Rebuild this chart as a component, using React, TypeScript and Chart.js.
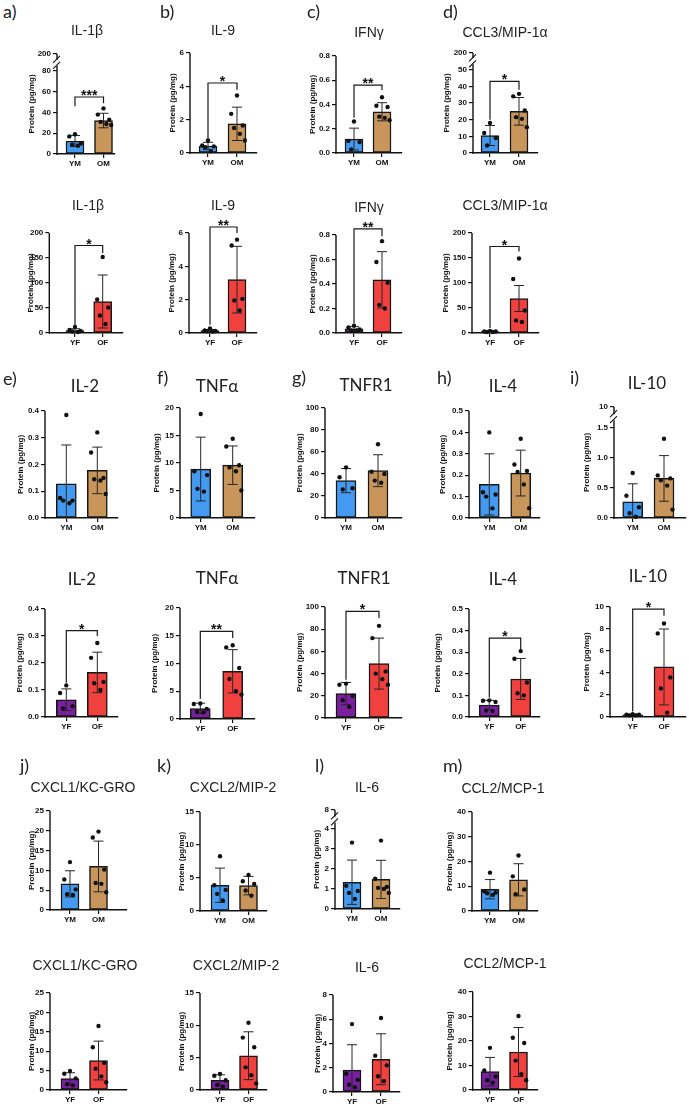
import React, { useEffect, useRef } from "react";
import { Chart, registerables } from "chart.js";
Chart.register(...registerables);

// ---------- groups / colours ----------
const MALE = ["YM", "OM"];
const FEMALE = ["YF", "OF"];
const MALE_COLORS = ["#449af0", "#c8965a"];
const FEMALE_COLORS = ["#7a1fa0", "#f0413f"];
const Y_TITLE = "Protein (pg/mg)";

// ---------- row 1 : male a-d ----------
const IL1B_M_PTS = [[19, 17, 10, 9, 8], [44, 38, 33, 31, 29, 28]];
const IL1B_M_MEAN = [12.5, 32.3];
const IL1B_M_SD = [5.3, 7.0];
const IL1B_M_TICKS = [0, 20, 40, 60, 80, 96.5];
const IL1B_M_LBL = ["0", "20", "40", "60", "80", "200"];

const IL9_M_PTS = [[0.75, 0.45, 0.4, 0.35, 0.1], [3.45, 2.35, 1.65, 1.5, 1.15, 0.75]];
const IL9_M_MEAN = [0.42, 1.75];
const IL9_M_SD = [0.22, 1.0];
const IL9_TICKS = [0, 2, 4, 6];
const IL9_LBL = ["0", "2", "4", "6"];

const IFNG_M_PTS = [[0.26, 0.1, 0.09, 0.03], [0.46, 0.39, 0.38, 0.3, 0.29, 0.27]];
const IFNG_M_MEAN = [0.115, 0.34];
const IFNG_M_SD = [0.09, 0.075];
const IFNG_TICKS = [0, 0.2, 0.4, 0.6, 0.8];
const IFNG_LBL = ["0.0", "0.2", "0.4", "0.6", "0.8"];

const CCL3_M_PTS = [[18, 12, 9, 4.5], [35.5, 34, 25.5, 21.5, 20.5, 15.5]];
const CCL3_M_MEAN = [10.5, 25];
const CCL3_M_SD = [6, 8.3];
const CCL3_M_TICKS = [0, 10, 20, 30, 40, 50, 60];
const CCL3_M_LBL = ["0", "10", "20", "30", "40", "50", "200"];

// ---------- row 2 : female a-d ----------
const IL1B_F_PTS = [[12, 6, 4, 3, 2], [152, 67, 51, 35, 18]];
const IL1B_F_MEAN = [5, 63];
const IL1B_F_SD = [3.5, 53];
const BIG_TICKS = [0, 50, 100, 150, 200];
const BIG_LBL = ["0", "50", "100", "150", "200"];

const IL9_F_PTS = [[0.27, 0.15, 0.12, 0.1, 0.08], [5.6, 5.25, 2.05, 1.95, 1.35]];
const IL9_F_MEAN = [0.14, 3.2];
const IL9_F_SD = [0.07, 2.0];

const IFNG_F_PTS = [[0.06, 0.045, 0.03, 0.02, 0.02], [0.75, 0.58, 0.41, 0.23, 0.2]];
const IFNG_F_MEAN = [0.035, 0.434];
const IFNG_F_SD = [0.017, 0.23];

const CCL3_F_PTS = [[4, 3, 3, 2, 2], [149, 108, 45, 25, 22]];
const CCL3_F_MEAN = [2.8, 69];
const CCL3_F_SD = [0.8, 26];

// ---------- row 3 : male e-i ----------
const IL2_M_PTS = [[0.385, 0.075, 0.065, 0.065, 0.055], [0.32, 0.245, 0.15, 0.145, 0.14, 0.09]];
const IL2_M_MEAN = [0.128, 0.178];
const IL2_M_SD = [0.145, 0.087];
const IL2_TICKS = [0, 0.1, 0.2, 0.3, 0.4];
const IL2_LBL = ["0.0", "0.1", "0.2", "0.3", "0.4"];

const TNFA_M_PTS = [[18.9, 8.5, 7.8, 5.3, 4.8], [14.4, 13, 9.6, 9.2, 8.5, 5]];
const TNFA_M_MEAN = [8.9, 9.6];
const TNFA_M_SD = [5.8, 3.5];
const TNFA_TICKS = [0, 5, 10, 15, 20];
const TNFA_LBL = ["0", "5", "10", "15", "20"];

const TNFR1_M_PTS = [[46, 37, 27, 26], [67, 42, 40, 34, 32]];
const TNFR1_M_MEAN = [34, 43];
const TNFR1_M_SD = [11, 14.5];
const TNFR1_TICKS = [0, 20, 40, 60, 80, 100];
const TNFR1_LBL = ["0", "20", "40", "60", "80", "100"];

const IL4_M_PTS = [[0.4, 0.12, 0.11, 0.1, 0.045], [0.37, 0.25, 0.22, 0.215, 0.157, 0.046]];
const IL4_M_MEAN = [0.157, 0.21];
const IL4_M_SD = [0.143, 0.107];
const IL4_TICKS = [0, 0.1, 0.2, 0.3, 0.4, 0.5];
const IL4_LBL = ["0.0", "0.1", "0.2", "0.3", "0.4", "0.5"];

const IL10_M_PTS = [[0.75, 0.37, 0.18, 0.08, 0.02], [1.32, 0.71, 0.66, 0.63, 0.54, 0.14]];
const IL10_M_MEAN = [0.27, 0.66];
const IL10_M_SD = [0.3, 0.38];
const IL10_M_TICKS = [0, 0.5, 1.0, 1.5, 1.85];
const IL10_M_LBL = ["0.0", "0.5", "1.0", "1.5", "10"];

// ---------- row 4 : female e-i ----------
const IL2_F_PTS = [[0.117, 0.089, 0.04, 0.032], [0.274, 0.219, 0.13, 0.125, 0.1]];
const IL2_F_MEAN = [0.064, 0.165];
const IL2_F_SD = [0.04, 0.075];

const TNFA_F_PTS = [[2.8, 2.7, 1.8, 1.3, 1.2], [13.3, 12.9, 9.2, 7.2, 5, 4.4]];
const TNFA_F_MEAN = [1.9, 8.6];
const TNFA_F_SD = [0.95, 3.9];

const TNFR1_F_PTS = [[31, 30, 20, 16, 10], [83, 72, 42, 40, 35, 30]];
const TNFR1_F_MEAN = [22, 49];
const TNFR1_F_SD = [10, 23];

const IL4_F_PTS = [[0.077, 0.075, 0.07, 0.03, 0.028], [0.305, 0.27, 0.16, 0.11, 0.1]];
const IL4_F_MEAN = [0.055, 0.176];
const IL4_F_SD = [0.022, 0.095];

const IL10_F_PTS = [[0.25, 0.2, 0.2, 0.15, 0.15], [8.5, 7.6, 3.6, 2.6, 0.4]];
const IL10_F_MEAN = [0.2, 4.55];
const IL10_F_SD = [0.05, 3.45];
const IL10_F_TICKS = [0, 2, 4, 6, 8, 10];
const IL10_F_LBL = ["0", "2", "4", "6", "8", "10"];

// ---------- row 5 : male j-m ----------
const CXCL1_M_PTS = [[12.1, 7.7, 5.2, 4.0, 3.8], [19.8, 18.3, 10.2, 6.8, 6.6, 4.5]];
const CXCL1_M_MEAN = [6.6, 11];
const CXCL1_M_SD = [3.3, 6.4];
const CXCL1_TICKS = [0, 5, 10, 15, 20, 25];
const CXCL1_LBL = ["0", "5", "10", "15", "20", "25"];

const CXCL2_M_PTS = [[8.3, 3.9, 3.2, 2.6, 1.6], [5.45, 4.5, 4.1, 3.1, 2.3]];
const CXCL2_M_MEAN = [3.9, 3.85];
const CXCL2_M_SD = [2.6, 1.4];
const CXCL2_TICKS = [0, 5, 10, 15];
const CXCL2_LBL = ["0", "5", "10", "15"];

const IL6_M_PTS = [[3.3, 1.15, 0.9, 0.8, 0.5], [3.4, 1.5, 1.1, 1.05, 1.0, 0.8]];
const IL6_M_MEAN = [1.33, 1.47];
const IL6_M_SD = [1.1, 0.95];
const IL6_M_TICKS = [0, 1, 2, 3, 4, 4.92];
const IL6_M_LBL = ["0", "1", "2", "3", "4", "8"];

const CCL2_M_PTS = [[15.5, 8, 7.5, 7.2, 6.5], [22.4, 14, 8.7, 6.8]];
const CCL2_M_MEAN = [8.8, 12.6];
const CCL2_M_SD = [3.9, 6.5];
const CCL2_TICKS = [0, 10, 20, 30, 40];
const CCL2_LBL = ["0", "10", "20", "30", "40"];

// ---------- row 6 : female j-m ----------
const CXCL1_F_PTS = [[4.9, 4.2, 3.0, 1.5, 1.2], [16.5, 11, 7, 5.5, 3.5, 2]];
const CXCL1_F_MEAN = [2.95, 7.6];
const CXCL1_F_SD = [1.5, 5];

const CXCL2_F_PTS = [[2.5, 2.2, 1.5, 0.8, 0.5], [10.4, 8.1, 6.6, 3.5, 2.3, 1.0]];
const CXCL2_F_MEAN = [1.5, 5.3];
const CXCL2_F_SD = [0.85, 3.7];

const IL6_F_PTS = [[5.6, 1.5, 1.0, 0.6, 0.4], [6.1, 3.0, 2.2, 1.3, 0.9]];
const IL6_F_MEAN = [1.8, 2.7];
const IL6_F_SD = [2.1, 2.1];
const IL6_F_TICKS = [0, 2, 4, 6, 8];
const IL6_F_LBL = ["0", "2", "4", "6", "8"];

const CCL2_F_PTS = [[17.2, 8, 5.5, 4, 3], [30.2, 21.3, 19.2, 12, 6.5, 4]];
const CCL2_F_MEAN = [7.5, 15.5];
const CCL2_F_SD = [5.8, 10];

// jitter pattern (horizontal spread of dots inside a bar, in category units)
const JIT = [0, -0.2, 0.2, -0.1, 0.1, 0.27];

// ---------- layout ----------
const M = (o: any) => ({ groups: MALE, colors: MALE_COLORS, ...o });
const F = (o: any) => ({ groups: FEMALE, colors: FEMALE_COLORS, ...o });

const PANELS: any[] = [
  // row 1
  M({ axisX: 57, xEnd: 115, c0: 75, c1: 103.5, top: 54, y0: 153.5, yMax: 96.5, ticks: IL1B_M_TICKS, lbl: IL1B_M_LBL, brk: 88, ytx: 32, bw: 18, pts: IL1B_M_PTS, mean: IL1B_M_MEAN, sd: IL1B_M_SD, br: [55, 46, 49], stars: "***" }),
  M({ axisX: 190, xEnd: 257, c0: 208, c1: 237, top: 53.3, y0: 153.3, yMax: 6, ticks: IL9_TICKS, lbl: IL9_LBL, ytx: 173, bw: 18, pts: IL9_M_PTS, mean: IL9_M_MEAN, sd: IL9_M_SD, br: [4.2, 0.85, 3.8], stars: "*" }),
  M({ axisX: 336, xEnd: 402, c0: 354, c1: 382, top: 56, y0: 153.3, yMax: 0.8, ticks: IFNG_TICKS, lbl: IFNG_LBL, ytx: 313, bw: 18, pts: IFNG_M_PTS, mean: IFNG_M_MEAN, sd: IFNG_M_SD, br: [0.56, 0.29, 0.52], stars: "**" }),
  M({ axisX: 473, xEnd: 538, c0: 490, c1: 519, top: 53.3, y0: 153.3, yMax: 60, ticks: CCL3_M_TICKS, lbl: CCL3_M_LBL, brk: 55, ytx: 447, bw: 18, pts: CCL3_M_PTS, mean: CCL3_M_MEAN, sd: CCL3_M_SD, br: [43, 20, 38], stars: "*" }),
  // row 2
  F({ axisX: 49.3, xEnd: 123, c0: 75, c1: 102.7, top: 233.3, y0: 333.3, yMax: 200, ticks: BIG_TICKS, lbl: BIG_LBL, ytx: 30.7, bw: 18, pts: IL1B_F_PTS, mean: IL1B_F_MEAN, sd: IL1B_F_SD, br: [175, 13, 160], stars: "*" }),
  F({ axisX: 189, xEnd: 257, c0: 210, c1: 237, top: 233.3, y0: 333.3, yMax: 6, ticks: IL9_TICKS, lbl: IL9_LBL, ytx: 172.3, bw: 18, pts: IL9_F_PTS, mean: IL9_F_MEAN, sd: IL9_F_SD, br: [6.36, 0.5, 6.0], stars: "**" }),
  F({ axisX: 336, xEnd: 402, c0: 354, c1: 382, top: 235, y0: 333.3, yMax: 0.8, ticks: IFNG_TICKS, lbl: IFNG_LBL, ytx: 313, bw: 18, pts: IFNG_F_PTS, mean: IFNG_F_MEAN, sd: IFNG_F_SD, br: [0.85, 0.08, 0.79], stars: "**" }),
  F({ axisX: 472, xEnd: 539, c0: 490, c1: 519, top: 233.3, y0: 333.3, yMax: 200, ticks: BIG_TICKS, lbl: BIG_LBL, ytx: 446, bw: 18, pts: CCL3_F_PTS, mean: CCL3_F_MEAN, sd: CCL3_F_SD, br: [173, 10, 163], stars: "*" }),
  // row 3
  M({ axisX: 45, xEnd: 118, c0: 66.3, c1: 97.3, top: 410.7, y0: 518.3, yMax: 0.4, ticks: IL2_TICKS, lbl: IL2_LBL, ytx: 20.7, bw: 20, pts: IL2_M_PTS, mean: IL2_M_MEAN, sd: IL2_M_SD }),
  M({ axisX: 180, xEnd: 255, c0: 200.7, c1: 232.7, top: 407.7, y0: 518.3, yMax: 20, ticks: TNFA_TICKS, lbl: TNFA_LBL, ytx: 156.7, bw: 20, pts: TNFA_M_PTS, mean: TNFA_M_MEAN, sd: TNFA_M_SD }),
  M({ axisX: 325, xEnd: 402, c0: 346, c1: 378, top: 407.7, y0: 518.3, yMax: 100, ticks: TNFR1_TICKS, lbl: TNFR1_LBL, ytx: 300, bw: 20, pts: TNFR1_M_PTS, mean: TNFR1_M_MEAN, sd: TNFR1_M_SD }),
  M({ axisX: 469, xEnd: 540, c0: 489.3, c1: 520.7, top: 410.7, y0: 518.3, yMax: 0.5, ticks: IL4_TICKS, lbl: IL4_LBL, ytx: 443.3, bw: 20, pts: IL4_M_PTS, mean: IL4_M_MEAN, sd: IL4_M_SD }),
  M({ axisX: 614, xEnd: 686, c0: 632.7, c1: 664, top: 407.3, y0: 518.3, yMax: 1.85, ticks: IL10_M_TICKS, lbl: IL10_M_LBL, brk: 1.68, ytx: 586.7, bw: 20, pts: IL10_M_PTS, mean: IL10_M_MEAN, sd: IL10_M_SD }),
  // row 4
  F({ axisX: 45, xEnd: 118, c0: 66.3, c1: 97.3, top: 609.3, y0: 717.3, yMax: 0.4, ticks: IL2_TICKS, lbl: IL2_LBL, ytx: 20, bw: 20, pts: IL2_F_PTS, mean: IL2_F_MEAN, sd: IL2_F_SD, br: [0.32, 0.127, 0.3], stars: "*" }),
  F({ axisX: 180, xEnd: 255, c0: 200.3, c1: 232.7, top: 608.3, y0: 718.5, yMax: 20, ticks: TNFA_TICKS, lbl: TNFA_LBL, ytx: 155, bw: 20, pts: TNFA_F_PTS, mean: TNFA_F_MEAN, sd: TNFA_F_SD, br: [15.8, 3.6, 14.6], stars: "**" }),
  F({ axisX: 325, xEnd: 402, c0: 346, c1: 379, top: 607.3, y0: 718.3, yMax: 100, ticks: TNFR1_TICKS, lbl: TNFR1_LBL, ytx: 300, bw: 20, pts: TNFR1_F_PTS, mean: TNFR1_F_MEAN, sd: TNFR1_F_SD, br: [96, 34.5, 90], stars: "*" }),
  F({ axisX: 469, xEnd: 540, c0: 489.3, c1: 520.7, top: 609.3, y0: 717.3, yMax: 0.5, ticks: IL4_TICKS, lbl: IL4_LBL, ytx: 438, bw: 20, pts: IL4_F_PTS, mean: IL4_F_MEAN, sd: IL4_F_SD, br: [0.365, 0.09, 0.31], stars: "*" }),
  F({ axisX: 610, xEnd: 686, c0: 632.7, c1: 664, top: 606.7, y0: 717.3, yMax: 10, ticks: IL10_F_TICKS, lbl: IL10_F_LBL, ytx: 586.7, bw: 20, pts: IL10_F_PTS, mean: IL10_F_MEAN, sd: IL10_F_SD, br: [9.8, 0.5, 9.2], stars: "*" }),
  // row 5
  M({ axisX: 50, xEnd: 127, c0: 70, c1: 98.5, top: 811, y0: 910, yMax: 25, ticks: CXCL1_TICKS, lbl: CXCL1_LBL, ytx: 31.7, bw: 18, pts: CXCL1_M_PTS, mean: CXCL1_M_MEAN, sd: CXCL1_M_SD }),
  M({ axisX: 200, xEnd: 267, c0: 220, c1: 248.5, top: 812, y0: 910.7, yMax: 15, ticks: CXCL2_TICKS, lbl: CXCL2_LBL, ytx: 181.7, bw: 18, pts: CXCL2_M_PTS, mean: CXCL2_M_MEAN, sd: CXCL2_M_SD }),
  M({ axisX: 335, xEnd: 400, c0: 352, c1: 381, top: 810, y0: 909.3, yMax: 4.92, ticks: IL6_M_TICKS, lbl: IL6_M_LBL, brk: 4.45, ytx: 316.7, bw: 18, pts: IL6_M_PTS, mean: IL6_M_MEAN, sd: IL6_M_SD }),
  M({ axisX: 472, xEnd: 538, c0: 490, c1: 518.5, top: 812, y0: 910.7, yMax: 40, ticks: CCL2_TICKS, lbl: CCL2_LBL, ytx: 450, bw: 18, pts: CCL2_M_PTS, mean: CCL2_M_MEAN, sd: CCL2_M_SD }),
  // row 6
  F({ axisX: 50, xEnd: 127, c0: 70, c1: 98.5, top: 993.3, y0: 1090, yMax: 25, ticks: CXCL1_TICKS, lbl: CXCL1_LBL, ytx: 31.7, bw: 18, pts: CXCL1_F_PTS, mean: CXCL1_F_MEAN, sd: CXCL1_F_SD }),
  F({ axisX: 200, xEnd: 267, c0: 220, c1: 248.5, top: 992.7, y0: 1090, yMax: 15, ticks: CXCL2_TICKS, lbl: CXCL2_LBL, ytx: 181.7, bw: 18, pts: CXCL2_F_PTS, mean: CXCL2_F_MEAN, sd: CXCL2_F_SD }),
  F({ axisX: 333, xEnd: 400, c0: 352, c1: 381, top: 995, y0: 1092, yMax: 8, ticks: IL6_F_TICKS, lbl: IL6_F_LBL, ytx: 318, bw: 18, pts: IL6_F_PTS, mean: IL6_F_MEAN, sd: IL6_F_SD }),
  F({ axisX: 472.7, xEnd: 538, c0: 490, c1: 518.5, top: 991.7, y0: 1090, yMax: 40, ticks: CCL2_TICKS, lbl: CCL2_LBL, ytx: 450, bw: 18, pts: CCL2_F_PTS, mean: CCL2_F_MEAN, sd: CCL2_F_SD }),
];

const ARIAL = "'Liberation Sans', Arial, sans-serif";
const CALIBRI = "Lato, 'Open Sans', sans-serif";

// titles: [text, centerX, centerY, family, size]
const TITLES: any[] = [
  ["IL-1β", 87, 30, ARIAL, 14], ["IL-9", 223, 30, ARIAL, 14], ["IFNγ", 369, 32, ARIAL, 14], ["CCL3/MIP-1α", 505, 32, ARIAL, 14],
  ["IL-1β", 88, 205, ARIAL, 14], ["IL-9", 223, 205, ARIAL, 14], ["IFNγ", 369, 207, ARIAL, 14], ["CCL3/MIP-1α", 505, 205, ARIAL, 14],
  ["IL-2", 85, 385, CALIBRI, 17], ["TNFα", 217, 385, CALIBRI, 17], ["TNFR1", 366, 384, CALIBRI, 17], ["IL-4", 503, 385, CALIBRI, 17], ["IL-10", 647, 382, CALIBRI, 17],
  ["IL-2", 82, 578, CALIBRI, 17], ["TNFα", 217, 577, CALIBRI, 17], ["TNFR1", 364, 577, CALIBRI, 17], ["IL-4", 503, 578, CALIBRI, 17], ["IL-10", 648, 575, CALIBRI, 17],
  ["CXCL1/KC-GRO", 83, 787, ARIAL, 14], ["CXCL2/MIP-2", 233, 787, ARIAL, 14], ["IL-6", 367, 787, ARIAL, 14], ["CCL2/MCP-1", 503, 788, ARIAL, 14],
  ["CXCL1/KC-GRO", 85, 965, ARIAL, 14], ["CXCL2/MIP-2", 236, 965, ARIAL, 14], ["IL-6", 367, 967, ARIAL, 14], ["CCL2/MCP-1", 505, 963, ARIAL, 14],
];

// panel letters: [text, left, centerY]
const LETTERS: any[] = [
  ["a)", 3, 11], ["b)", 160, 11], ["c)", 307, 11], ["d)", 443, 11],
  ["e)", 3, 378], ["f)", 157, 377], ["g)", 292, 377], ["h)", 437, 377], ["i)", 570, 377],
  ["j)", 20, 765], ["k)", 157, 765], ["l)", 315, 765], ["m)", 443, 765],
];

const TICK_FONT = { family: ARIAL, size: 8, weight: "bold" as const };

function PanelChart({ p }: { p: any }) {
  const ref = useRef<HTMLCanvasElement>(null);
  const padTop = 45;
  const padRight = 4;
  const xH = 20;
  const left = Math.round(p.ytx - 5);
  const top = Math.round(p.top - padTop);
  const width = Math.round(p.xEnd - left + padRight);
  const height = Math.round(p.y0 - top + xH);

  useEffect(() => {
    const unit = p.c1 - p.c0;
    const xmin = -(p.c0 - p.axisX) / unit;
    const xmax = 1 + (p.xEnd - p.c1) / unit;
    const scatter: any[] = [];
    p.pts.forEach((arr: number[], g: number) =>
      arr.forEach((v: number, i: number) => scatter.push({ x: g + JIT[i % JIT.length], y: v }))
    );
    const deco = {
      id: "deco",
      afterDatasetDraw(chart: any, args: any) {
        if (args.meta.type !== "bar") return;
        const ctx = chart.ctx;
        const xs = chart.scales.x;
        const ys = chart.scales.y;
        ctx.save();
        ctx.strokeStyle = "#262626";
        ctx.lineWidth = 1;
        p.mean.forEach((m: number, i: number) => {
          const x = xs.getPixelForValue(i);
          const hi = ys.getPixelForValue(m + p.sd[i]);
          const lowVal = m - p.sd[i];
          const lo = ys.getPixelForValue(Math.max(0, lowVal));
          ctx.beginPath();
          ctx.moveTo(x, lo);
          ctx.lineTo(x, hi);
          ctx.moveTo(x - 5, hi);
          ctx.lineTo(x + 5, hi);
          if (lowVal > 0) {
            ctx.moveTo(x - 5, lo);
            ctx.lineTo(x + 5, lo);
          }
          ctx.stroke();
        });
        ctx.restore();
      },
      afterDraw(chart: any) {
        const ctx = chart.ctx;
        const { left: L, top: T, bottom: B } = chart.chartArea;
        const ys = chart.scales.y;
        const xs = chart.scales.x;
        ctx.save();
        ctx.strokeStyle = "#111";
        ctx.lineWidth = 1.4;
        const ax = L;
        if (p.brk != null) {
          const by = ys.getPixelForValue(p.brk);
          const g = 3;
          ctx.beginPath();
          ctx.moveTo(ax, B + 0.7);
          ctx.lineTo(ax, by + g);
          ctx.moveTo(ax, by - g);
          ctx.lineTo(ax, T);
          ctx.stroke();
          ctx.lineWidth = 1.1;
          ctx.beginPath();
          ctx.moveTo(ax - 4, by + g + 3);
          ctx.lineTo(ax + 3, by + g - 4);
          ctx.moveTo(ax - 4, by - g + 3);
          ctx.lineTo(ax + 3, by - g - 4);
          ctx.stroke();
        } else {
          ctx.beginPath();
          ctx.moveTo(ax, B + 0.7);
          ctx.lineTo(ax, T);
          ctx.stroke();
        }
        if (p.br) {
          const x0 = xs.getPixelForValue(0);
          const x1 = xs.getPixelForValue(1);
          const yl = ys.getPixelForValue(p.br[0]);
          const yA = ys.getPixelForValue(p.br[1]);
          const yB = ys.getPixelForValue(p.br[2]);
          ctx.lineWidth = 1.2;
          ctx.strokeStyle = "#1a1a1a";
          ctx.beginPath();
          ctx.moveTo(x0, yA);
          ctx.lineTo(x0, yl);
          ctx.lineTo(x1, yl);
          ctx.lineTo(x1, yB);
          ctx.stroke();
          ctx.fillStyle = "#111";
          ctx.font = `bold 14px ${ARIAL}`;
          ctx.textAlign = "center";
          ctx.textBaseline = "alphabetic";
          ctx.fillText(p.stars, (x0 + x1) / 2, yl + 3);
        }
        ctx.restore();
      },
    };

    const chart = new Chart(ref.current as HTMLCanvasElement, {
      type: "bar",
      data: {
        datasets: [
          {
            type: "scatter",
            data: scatter,
            backgroundColor: "#111",
            borderColor: "#111",
            pointRadius: 2.2,
            borderWidth: 0,
            clip: false,
            order: 0,
          } as any,
          {
            type: "bar",
            data: p.mean.map((m: number, i: number) => ({ x: i, y: m })),
            backgroundColor: p.colors,
            borderColor: "#161616",
            borderWidth: 1.5,
            borderSkipped: false,
            barThickness: p.bw,
            clip: false,
            order: 1,
          } as any,
        ],
      },
      options: {
        responsive: false,
        animation: false,
        devicePixelRatio: 1,
        layout: { padding: { left: 0, top: padTop, right: padRight, bottom: 0 } },
        plugins: { legend: { display: false }, tooltip: { enabled: false }, title: { display: false } },
        scales: {
          x: {
            type: "linear",
            min: xmin,
            max: xmax,
            bounds: "data",
            offset: false,
            afterBuildTicks: (s: any) => {
              s.ticks = [{ value: 0 }, { value: 1 }];
            },
            ticks: {
              callback: (_v: any, i: number) => p.groups[i],
              font: TICK_FONT,
              color: "#111",
              padding: 1,
              autoSkip: false,
              maxRotation: 0,
            },
            grid: { display: true, offset: false, drawOnChartArea: false, drawTicks: true, tickLength: 4, color: "#111", lineWidth: 1.2 },
            border: { display: true, color: "#111", width: 1.5 },
            afterFit: (s: any) => {
              s.height = xH;
            },
          },
          y: {
            type: "linear",
            min: 0,
            max: p.yMax,
            bounds: "data",
            afterBuildTicks: (s: any) => {
              s.ticks = p.ticks.map((v: number) => ({ value: v }));
            },
            ticks: {
              callback: (_v: any, i: number) => p.lbl[i],
              font: TICK_FONT,
              color: "#111",
              padding: 2,
              autoSkip: false,
            },
            grid: { display: true, drawOnChartArea: false, drawTicks: true, tickLength: 4, color: "#111", lineWidth: 1.2 },
            border: { display: false },
            title: { display: true, text: Y_TITLE, font: TICK_FONT, color: "#111", padding: 0 },
            afterFit: (s: any) => {
              s.width = p.axisX - left;
            },
          },
        },
      } as any,
      plugins: [deco],
    });
    return () => chart.destroy();
  }, []);

  return (
    <canvas
      ref={ref}
      width={width}
      height={height}
      style={{ position: "absolute", left, top, width, height, display: "block" }}
    />
  );
}

export default function App() {
  return (
    <div
      style={{
        position: "absolute",
        left: 0,
        top: 0,
        width: 689,
        height: 1106,
        overflow: "hidden",
        background: "#fff",
      }}
    >
      {PANELS.map((p, i) => (
        <PanelChart key={i} p={p} />
      ))}
      {TITLES.map((t, i) => (
        <div
          key={"t" + i}
          style={{
            position: "absolute",
            left: t[1],
            top: t[2],
            transform: "translate(-50%, -50%)",
            whiteSpace: "nowrap",
            fontFamily: t[3],
            fontSize: t[4],
            color: "#222",
            lineHeight: 1,
          }}
        >
          {t[0]}
        </div>
      ))}
      {LETTERS.map((l, i) => (
        <div
          key={"l" + i}
          style={{
            position: "absolute",
            left: l[1],
            top: l[2],
            transform: "translateY(-50%)",
            whiteSpace: "nowrap",
            fontFamily: CALIBRI,
            fontSize: 18,
            color: "#222",
            lineHeight: 1,
          }}
        >
          {l[0]}
        </div>
      ))}
    </div>
  );
}
